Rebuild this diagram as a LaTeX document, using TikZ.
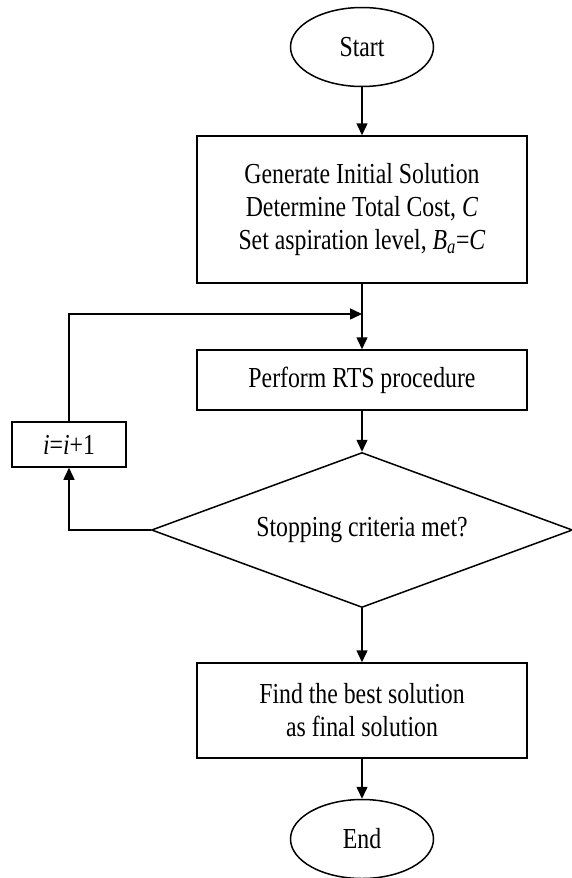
\documentclass[tikz,border=0pt]{standalone}
\usepackage{fontspec}
\setmainfont{Liberation Serif}[FakeStretch=0.82]
\usetikzlibrary{shapes.geometric,arrows.meta}
\tikzset{
  box/.style={draw,line width=1.5pt,rectangle,minimum width=330pt,align=center,inner sep=0pt},
  oval/.style={draw,line width=1.5pt,ellipse,minimum width=143pt,minimum height=79pt,inner sep=0pt},
  arr/.style={line width=1.5pt,-{Triangle[length=12pt,width=11pt]}}
}
\begin{document}
\begin{tikzpicture}[x=1pt,y=-1pt,font=\fontsize{29}{33}\selectfont]
\useasboundingbox (0,0) rectangle (571,878);
\node[oval] (start) at (362,47) {Start};
\node[box,minimum height=147pt] (init) at (362,209.5) {Generate Initial Solution\\Determine Total Cost, \textit{C}\\Set aspiration level, \textit{B}\textsubscript{\textit{a}}=\textit{C}};
\node[box,minimum height=60pt] (rts) at (362,380) {Perform RTS procedure};
\node[draw,line width=1.5pt,diamond,aspect=2.7,minimum width=421pt,minimum height=155pt,inner sep=0pt] (stop) at (362,530) {Stopping criteria met?};
\node[box,minimum width=114pt,minimum height=45pt] (incr) at (69,444.5) {\textit{i}=\textit{i}+1};
\node[box,minimum height=95pt] (best) at (362,710.5) {Find the best solution\\as final solution};
\node[oval] (end) at (362,839) {End};
\coordinate (join) at (362,314);
\draw[arr] (start) -- (init);
\draw[arr] (init) -- (rts);
\draw[arr] (incr.north) |- (join);
\draw[arr] (rts) -- (stop);
\draw[arr] (stop.west) -| (incr.south);
\draw[arr] (stop) -- (best);
\draw[arr] (best) -- (end);
\end{tikzpicture}
\end{document}
